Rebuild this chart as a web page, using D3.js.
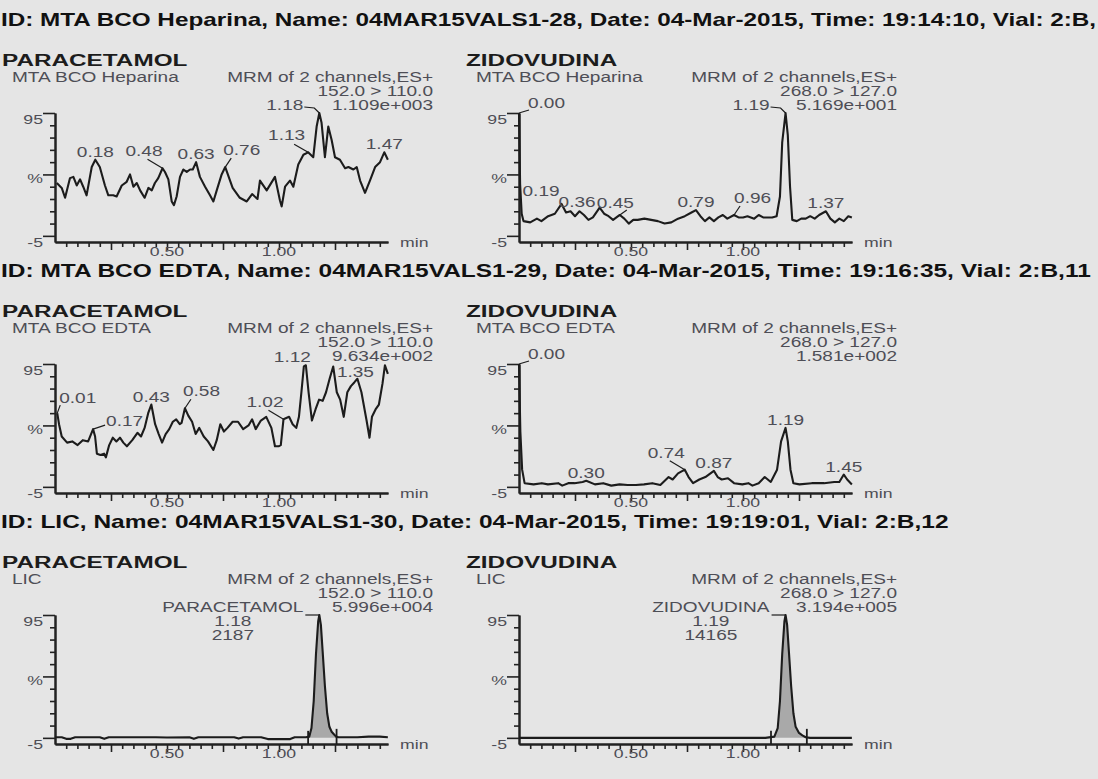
<!DOCTYPE html>
<html>
<head>
<meta charset="utf-8">
<script src="https://cdn.jsdelivr.net/npm/d3@7"></script>
<style>
  html, body { margin: 0; padding: 0; background: #e5e5e5; }
  svg { display: block; }
</style>
</head>
<body>
<svg id="chart" width="1098" height="779"></svg>
<script>
// ---------- sample / acquisition info ----------
const sampleHeaders = [
  "ID: MTA BCO Heparina, Name: 04MAR15VALS1-28, Date: 04-Mar-2015, Time: 19:14:10, Vial: 2:B,",
  "ID: MTA BCO EDTA, Name: 04MAR15VALS1-29, Date: 04-Mar-2015, Time: 19:16:35, Vial: 2:B,11",
  "ID: LIC, Name: 04MAR15VALS1-30, Date: 04-Mar-2015, Time: 19:19:01, Vial: 2:B,12"
];
const sampleNames = ["MTA BCO Heparina", "MTA BCO EDTA", "LIC"];
const compounds = ["PARACETAMOL", "ZIDOVUDINA"];
const transitions = ["152.0 > 110.0", "268.0 > 127.0"];
const scanMode = "MRM of 2 channels,ES+";
const intensities = [
  ["1.109e+003", "5.169e+001"],
  ["9.634e+002", "1.581e+002"],
  ["5.996e+004", "3.194e+005"]
];
const yTickLabels = [[95, "95"], [47, "%"], [-5, "-5"]];
const xTickLabels = [0.50, 1.00];
const xUnit = "min";

// ---------- chromatogram traces: [time (min), relative intensity (%)] ----------
const paraHeparina = [[0.008,43],[0.03,39],[0.045,31],[0.067,47],[0.082,48],[0.097,41],[0.112,46],[0.126,40],[0.141,33],[0.164,56],[0.18,62],[0.20,56],[0.223,41],[0.238,33],[0.26,33],[0.275,32],[0.298,41],[0.32,44],[0.335,50],[0.35,40],[0.365,43],[0.38,37],[0.40,31],[0.417,39],[0.432,37],[0.446,43],[0.461,47],[0.48,55],[0.491,52],[0.506,46],[0.521,28],[0.531,25],[0.543,32],[0.558,48],[0.573,54],[0.588,52],[0.603,54],[0.615,54],[0.63,60],[0.647,48],[0.67,40],[0.692,33],[0.707,28],[0.722,37],[0.744,50],[0.76,56],[0.793,39],[0.825,31],[0.856,28],[0.88,34],[0.904,30],[0.915,45],[0.945,37],[0.982,48],[1.004,29],[1.012,24],[1.027,40],[1.049,45],[1.064,40],[1.086,58],[1.109,66],[1.13,68],[1.153,64],[1.168,89],[1.18,100],[1.19,92],[1.205,64],[1.22,89],[1.235,78],[1.25,64],[1.272,62],[1.295,55],[1.31,56],[1.332,54],[1.347,56],[1.362,45],[1.384,35],[1.406,45],[1.429,56],[1.451,60],[1.47,68],[1.486,62]];

const zidoHeparina = [[0,100],[0.005,42],[0.012,18],[0.02,12],[0.05,11],[0.08,14],[0.10,12],[0.13,16],[0.16,18],[0.19,26],[0.21,19],[0.23,20],[0.25,16],[0.27,20],[0.29,17],[0.31,13],[0.33,15],[0.36,23],[0.38,18],[0.40,16],[0.42,13],[0.45,17],[0.47,14],[0.49,10],[0.51,13],[0.53,13],[0.56,14],[0.59,13],[0.62,12],[0.65,10],[0.68,11],[0.71,14],[0.74,16],[0.77,19],[0.79,21],[0.81,16],[0.83,12],[0.85,15],[0.87,12],[0.89,15],[0.91,17],[0.93,14],[0.96,17],[0.98,15],[1.00,15],[1.02,16],[1.05,14],[1.07,17],[1.09,15],[1.11,15],[1.13,15],[1.15,16],[1.165,32],[1.175,76],[1.19,100],[1.20,82],[1.21,40],[1.22,13],[1.24,12],[1.26,14],[1.28,14],[1.30,16],[1.32,14],[1.34,17],[1.37,20],[1.39,14],[1.41,11],[1.43,14],[1.45,12],[1.47,16],[1.486,15]];

const paraEdta = [[0.01,60],[0.018,51],[0.03,41],[0.054,36],[0.077,37],[0.101,34],[0.124,38],[0.148,37],[0.17,47],[0.179,41],[0.187,27],[0.203,26],[0.219,27],[0.227,24],[0.242,34],[0.258,40],[0.274,37],[0.29,40],[0.305,36],[0.321,33],[0.345,38],[0.368,44],[0.384,41],[0.40,48],[0.416,60],[0.43,67],[0.447,51],[0.463,43],[0.478,36],[0.494,43],[0.51,47],[0.526,53],[0.541,55],[0.557,51],[0.565,52],[0.58,64],[0.595,58],[0.612,53],[0.628,43],[0.644,48],[0.664,41],[0.683,37],[0.707,30],[0.722,38],[0.738,51],[0.754,45],[0.77,48],[0.793,53],[0.817,53],[0.84,47],[0.864,50],[0.88,55],[0.896,47],[0.919,54],[0.943,57],[0.966,48],[0.982,33],[0.998,33],[1.008,34],[1.02,55],[1.045,57],[1.061,51],[1.077,48],[1.089,57],[1.1,77],[1.111,98],[1.12,99],[1.132,77],[1.147,54],[1.163,63],[1.179,71],[1.195,70],[1.21,77],[1.226,88],[1.242,98],[1.258,77],[1.273,71],[1.289,57],[1.305,77],[1.321,82],[1.336,85],[1.35,88],[1.368,77],[1.391,54],[1.404,40],[1.415,57],[1.431,63],[1.446,67],[1.462,84],[1.473,99],[1.486,92]];

const zidoEdta = [[0,100],[0.006,45],[0.014,14],[0.025,3],[0.065,2],[0.102,3],[0.129,2],[0.175,3],[0.193,1],[0.22,3],[0.248,3],[0.284,4],[0.30,5],[0.339,2],[0.376,3],[0.412,1],[0.449,2],[0.485,1.5],[0.522,1.5],[0.558,2],[0.595,3],[0.631,1.5],[0.668,8],[0.686,6],[0.71,11],[0.74,14],[0.757,8],[0.777,3],[0.805,6],[0.832,8],[0.87,13],[0.887,8],[0.905,6],[0.933,7],[0.96,3],[0.997,2],[1.024,3],[1.042,1],[1.07,3],[1.097,8],[1.124,4],[1.152,14],[1.17,37],[1.19,48],[1.2,37],[1.212,14],[1.225,3],[1.252,2],[1.307,3],[1.362,3],[1.407,4],[1.43,4],[1.45,10],[1.465,6],[1.486,2]];

const paraLic = [[0,0.5],[0.03,0.5],[0.05,-0.8],[0.07,-0.8],[0.09,0.5],[0.2,0.5],[0.22,-0.8],[0.24,0.5],[0.45,0.5],[0.5,0.3],[0.6,0.5],[0.62,-0.8],[0.64,0.5],[0.8,0.5],[0.82,-0.6],[0.84,0.5],[0.92,0.5],[0.95,-1],[1.05,-1],[1.07,0.5],[1.12,0.5],[1.135,1],[1.145,8],[1.155,30],[1.165,68],[1.175,95],[1.18,100],[1.187,92],[1.195,70],[1.205,42],[1.215,20],[1.225,9],[1.235,5],[1.245,3],[1.255,1],[1.265,0.5],[1.3,0.5],[1.35,0.5],[1.4,1],[1.45,1],[1.486,0.5]];

const zidoLic = [[0,0],[1.1,0],[1.14,1],[1.155,8],[1.165,30],[1.175,68],[1.185,95],[1.19,100],[1.197,92],[1.205,70],[1.215,42],[1.225,20],[1.235,9],[1.25,4],[1.265,2],[1.28,0.5],[1.3,0],[1.486,0]];

// ---------- labelled retention times ----------
const peaksParaHeparina = [0.18, 0.48, 0.63, 0.76, 1.13, 1.18, 1.47];
const peaksZidoHeparina = [0.00, 0.19, 0.36, 0.45, 0.79, 0.96, 1.19, 1.37];
const peaksParaEdta = [0.01, 0.17, 0.43, 0.58, 1.02, 1.12, 1.35];
const peaksZidoEdta = [0.00, 0.30, 0.74, 0.87, 1.19, 1.45];

// integrated peaks in the LIC sample
const integratedPeaks = [
  { name: "PARACETAMOL", rt: 1.18, area: 2187, start: 1.13, end: 1.257 },
  { name: "ZIDOVUDINA", rt: 1.19, area: 14165, start: 1.125, end: 1.285 }
];

// ---------- label placement (anchor, dx, dy, leader start offsets) ----------
const placeParaHeparina = [
  ["middle", 0, -3, null], ["end", 0, -12, [[-15, -9]]], ["middle", 0, -3, null],
  ["start", -2, -12, [[6, -9]]], ["end", -3, -12, [[-14, -8]]],
  ["end", -16, -3, [[-15, -6], [-5, -5]]], ["middle", 0, -3, null]
];
const placeZidoHeparina = [
  ["start", 9, -5, [[10, -3]]], ["end", -2, -8, null], ["end", -4, -1, null],
  ["start", -23, -7, [[7, -5]]], ["middle", 0, -3, null], ["start", 0, -12, [[6, -9]]],
  ["end", -16, -3, [[-15, -6], [-5, -5]]], ["middle", 0, -3, null]
];
const placeParaEdta = [
  ["start", 2, -10, [[3, -8]]], ["start", 13, -3, [[12, -4]]], ["middle", 0, -3, null],
  ["start", -2, -12, [[6, -9]]], ["end", 0, -12, [[-15, -9]]], ["end", 5, -3, null],
  ["middle", -2, -2, null]
];
const placeZidoEdta = [
  ["start", 9, -5, [[10, -3]]], ["middle", 0, -3, null], ["end", 0, -12, [[-15, -9]]],
  ["middle", 0, -3, null], ["middle", 0, -3, null], ["middle", 0, -3, null]
];

// ---------- layout ----------
const W = 1098, H = 779;
const colX = [0, 464];
const rowTop = [113, 364, 615];
const FONT = '"Liberation Sans", Arial, Helvetica, sans-serif';
const SX_SMALL = 1.36, SX_HEAD = 1.36, SX_TITLE = 1.43;
const INK = "#1c1c1c", GREY = "#4e4e56";

const svg = d3.select("#chart");
svg.append("rect").attr("width", W).attr("height", H).attr("fill", "#e5e5e5");

const x = d3.scaleLinear().domain([0, 1.4866]).range([55, 388]);
const y = d3.scaleLinear().domain([-5, 100]).range([129, 0]);
const fmt2 = d3.format(".2f");

function say(g, px, py, s, o = {}) {
  return g.append("text")
    .attr("transform", `translate(${px},${py}) scale(${o.sx || SX_SMALL},1)`)
    .attr("text-anchor", o.anchor || "start")
    .attr("font-family", FONT)
    .attr("font-size", o.size || 14)
    .attr("font-weight", o.weight || 400)
    .attr("fill", o.fill || GREY)
    .text(s);
}

function valueAt(trace, t) {
  for (let i = 0; i < trace.length - 1; i++) {
    const a = trace[i], b = trace[i + 1];
    if (t >= a[0] && t <= b[0]) {
      const k = b[0] === a[0] ? 0 : (t - a[0]) / (b[0] - a[0]);
      return a[1] + k * (b[1] - a[1]);
    }
  }
  return t <= trace[0][0] ? trace[0][1] : trace[trace.length - 1][1];
}

function drawPanel(r, c, trace, peaks, places, integ) {
  const g = svg.append("g").attr("transform", `translate(${colX[c]},${rowTop[r]})`);

  // titles and acquisition text
  say(g, 2, -47, compounds[c], { size: 17, weight: 700, sx: SX_TITLE, fill: INK });
  say(g, 12, -31, sampleNames[r]);
  say(g, 433, -31, scanMode, { anchor: "end" });
  say(g, 433, -17, transitions[c], { anchor: "end" });
  say(g, 433, -3, intensities[r][c], { anchor: "end" });

  // axes
  const axisCol = "#222";
  const minors = d3.range(1, 30).map(i => +(i * 0.05).toFixed(2)).filter(v => Math.abs(v / 0.25 - Math.round(v / 0.25)) > 1e-6);
  const majors = [0.25, 0.5, 0.75, 1.0, 1.25];
  const xa = g.append("g").attr("transform", `translate(0,${y(-5)})`);
  xa.call(d3.axisBottom(x).tickValues(minors).tickSize(5).tickSizeOuter(0).tickFormat(""));
  xa.append("g").call(d3.axisBottom(x).tickValues(majors).tickSize(8).tickSizeOuter(0).tickFormat(""));
  const ya = g.append("g").attr("transform", `translate(${x(0)},0)`);
  ya.call(d3.axisLeft(y).tickValues(d3.range(10, 100, 10).filter(v => v !== 50)).tickSize(5).tickSizeOuter(0).tickFormat(""));
  ya.append("g").call(d3.axisLeft(y).tickValues([0, 50, 100]).tickSize(12).tickSizeOuter(0).tickFormat(""));
  g.selectAll(".domain").attr("stroke", axisCol).attr("stroke-width", 2);
  g.selectAll(".tick line").attr("stroke", axisCol).attr("stroke-width", 1.6);

  yTickLabels.forEach(([v, s]) => say(g, 43, y(v) + 5, s, { anchor: "end", size: 13 }));
  xTickLabels.forEach(v => say(g, x(v), y(-5) + 14, fmt2(v), { anchor: "middle", size: 13 }));
  say(g, 400, y(-5) + 5, xUnit, { size: 13 });

  // integrated area
  if (integ) {
    const seg = [[integ.start, valueAt(trace, integ.start)]]
      .concat(trace.filter(d => d[0] > integ.start && d[0] < integ.end))
      .concat([[integ.end, valueAt(trace, integ.end)]]);
    g.append("path").datum(seg)
      .attr("d", d3.area().x(d => x(d[0])).y0(y(0)).y1(d => y(Math.max(0, d[1]))))
      .attr("fill", "#a9a9a9");
    [integ.start, integ.end].forEach((t, i) => {
      g.append("line").attr("x1", x(t)).attr("x2", x(t))
        .attr("y1", y(0) - (i ? 9 : 7)).attr("y2", y(-5))
        .attr("stroke", INK).attr("stroke-width", 1.8);
    });
  }

  // trace
  g.append("path").datum(trace)
    .attr("d", d3.line().x(d => x(d[0])).y(d => y(d[1])))
    .attr("fill", "none").attr("stroke", INK).attr("stroke-width", 2.1)
    .attr("stroke-linejoin", "round");

  // peak labels
  (peaks || []).forEach((rt, i) => {
    const [anchor, dx, dy, leader] = places[i];
    const ax = x(rt), ay = y(valueAt(trace, rt));
    if (leader) {
      const pts = leader.map(([lx, ly]) => [ax + lx, ay + ly]).concat([[ax, ay]]);
      g.append("path").attr("d", d3.line()(pts)).attr("fill", "none")
        .attr("stroke", INK).attr("stroke-width", 1.2);
    }
    say(g, ax + dx, ay + dy, fmt2(rt), { anchor });
  });

  if (integ) {
    const ax = x(integ.rt), ay = y(valueAt(trace, integ.rt));
    const nameRight = ax - 16;
    const nm = say(g, nameRight, -3, integ.name, { anchor: "end" });
    const wName = nm.node().getComputedTextLength() * SX_SMALL;
    const cx = nameRight - wName / 2;
    say(g, cx, 11, fmt2(integ.rt), { anchor: "middle" });
    say(g, cx, 25, String(integ.area), { anchor: "middle" });
    g.append("path").attr("d", d3.line()([[nameRight + 2, ay], [ax, ay]]))
      .attr("fill", "none").attr("stroke", INK).attr("stroke-width", 1.2);
  }
}

// sample headers (narrowed only if a line would run past the right edge)
sampleHeaders.forEach((h, r) => {
  const t = say(svg, 1, rowTop[r] - 87, h, { size: 18, weight: 700, sx: SX_HEAD, fill: "#111" });
  const natural = t.node().getComputedTextLength();
  const sx = Math.min(SX_HEAD, (W - 3) / natural);
  t.attr("transform", `translate(1,${rowTop[r] - 87}) scale(${sx},1)`);
});

drawPanel(0, 0, paraHeparina, peaksParaHeparina, placeParaHeparina, null);
drawPanel(0, 1, zidoHeparina, peaksZidoHeparina, placeZidoHeparina, null);
drawPanel(1, 0, paraEdta, peaksParaEdta, placeParaEdta, null);
drawPanel(1, 1, zidoEdta, peaksZidoEdta, placeZidoEdta, null);
drawPanel(2, 0, paraLic, [], [], integratedPeaks[0]);
drawPanel(2, 1, zidoLic, [], [], integratedPeaks[1]);
</script>
</body>
</html>
